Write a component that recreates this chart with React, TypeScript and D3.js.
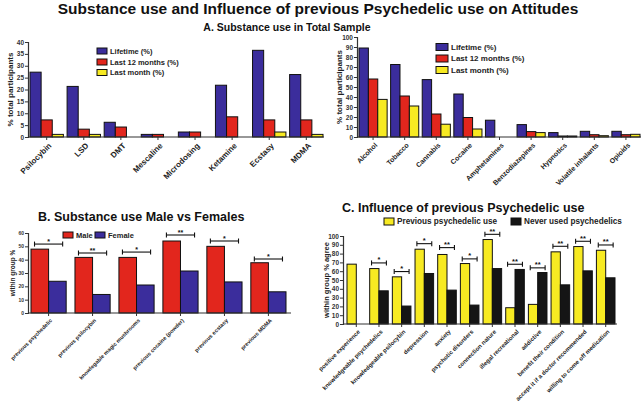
import React, { useEffect, useRef } from 'react';
import * as d3 from 'd3';

const W = 644;
const H = 412;
const FONT = '"Liberation Sans", Arial, sans-serif';
const BLUE = '#3b2d9c';
const RED = '#e2261d';
const YELLOW = '#f7ea22';
const BLACK = '#151515';

// A. Substance use in total sample (left)
const substancesA1 = ['Psilocybin', 'LSD', 'DMT', 'Mescaline', 'Microdosing', 'Ketamine', 'Ecstasy', 'MDMA'];
const lifetimeA1 = [27.3, 21.3, 6.2, 1.1, 2.1, 21.8, 36.5, 26.3];
const last12A1 = [7.2, 3.3, 4.2, 1.1, 2.1, 8.5, 7.2, 7.2];
const lastMonthA1 = [1.1, 1.1, 0, 0, 0, 0, 2.1, 1.1];

// A. Substance use in total sample (right)
const substancesA2 = ['Alcohol', 'Tobacco', 'Cannabis', 'Cocaine', 'Amphetamines', 'Benzodiazepines', 'Hypnotics', 'Volatile inhalants', 'Opioids'];
const lifetimeA2 = [89, 72.5, 57.4, 43, 16.8, 12.4, 4.4, 5.7, 5.7];
const last12A2 = [58, 41, 23, 19.5, 0, 5.4, 1, 2.3, 2.3];
const lastMonthA2 = [37.6, 31, 12.8, 8, 0, 4.4, 1, 1.3, 2.7];
const legendA = ['Lifetime (%)', 'Last 12 months (%)', 'Last month (%)'];

// B. Male vs females
const itemsB = ['previous psychedelic', 'previous psilocybin', 'knowlegable magic mushrooms', 'previous cocaine (powder)', 'previous ecstasy', 'previous MDMA'];
const maleB = [47.9, 41.7, 41.7, 54, 50, 37.7];
const femaleB = [23.8, 13.9, 21, 31.5, 23.3, 15.9];
const sigB = ['*', '**', '*', '**', '*', '*'];
const sigHeightB = [51.7, 45, 45.7, 58.5, 54, 40.5];

// C. Influence of previous psychedelic use
const itemsC = ['positive experience', 'knowledgeable psychedelics', 'knowledgeable psilocybin', 'depression', 'anxiety', 'psychotic disorders', 'connection nature', 'illegal recreational', 'addictive', 'benefit their condition', 'accept it if a doctor recommended', 'willing to come off medication'];
const previousC = [68, 63, 53.6, 85, 79, 68.7, 96, 18.5, 22.3, 82, 88, 83.8];
const neverC: (number | null)[] = [null, 37.7, 20.4, 57.4, 38.5, 21.5, 63, 62, 58.5, 44.5, 60.4, 52.5];
const sigC = ['', '*', '*', '*', '**', '*', '**', '**', '**', '**', '**', '**'];
const sigHeightC: (number | null)[] = [null, 69.4, 59.6, 91.3, 86.8, 74, 101.9, 67.9, 63.8, 88.3, 94, 89.8];

type Panel = {
  cats: string[];
  series: (number | null)[][];
  colors: string[];
  x0: number; x1: number; axisX: number; axisEnd: number;
  yTop: number; yBottom: number; yMax: number; tickStep: number;
  pad: number;
  tickFont: number; labelFont: number;
  yTitle: string; yTitleX: number; yTitleFont: number;
  sig?: string[]; sigAt?: (number | null)[]; sigFont?: number;
};

function drawPanel(svg: d3.Selection<SVGSVGElement, unknown, null, undefined>, p: Panel) {
  const g = svg.append('g');
  const x = d3.scaleBand().domain(p.cats).range([p.x0, p.x1]).paddingInner(p.pad).paddingOuter(0);
  const xs = d3.scaleBand<number>().domain(d3.range(p.series.length)).range([0, x.bandwidth()]);
  const y = d3.scaleLinear().domain([0, p.yMax]).range([p.yBottom, p.yTop]);

  // bars
  p.series.forEach((vals, si) => {
    g.append('g')
      .selectAll('rect')
      .data(p.cats.map((c, i) => ({ c, v: vals[i] })).filter(d => d.v !== null))
      .join('rect')
      .attr('x', d => (x(d.c) as number) + (xs(si) as number))
      .attr('y', d => y(d.v as number))
      .attr('width', xs.bandwidth())
      .attr('height', d => p.yBottom - y(d.v as number))
      .attr('fill', p.colors[si])
      .attr('stroke', '#111')
      .attr('stroke-width', 1);
  });

  // y axis
  const ya = g.append('g')
    .attr('transform', `translate(${p.axisX},0)`)
    .call(d3.axisLeft(y).tickValues(d3.range(0, p.yMax + 0.1, p.tickStep)).tickSize(3).tickPadding(1));
  ya.select('.domain').attr('stroke', '#333').attr('stroke-width', 1.2);
  ya.selectAll('.tick line').attr('stroke', '#333');
  ya.selectAll('.tick text')
    .attr('font-family', FONT).attr('font-size', p.tickFont).attr('font-weight', 'bold').attr('fill', '#333');

  // x axis
  g.append('line')
    .attr('x1', p.axisX).attr('x2', p.axisEnd)
    .attr('y1', p.yBottom).attr('y2', p.yBottom)
    .attr('stroke', '#333').attr('stroke-width', 1.2);
  g.append('g')
    .selectAll('line')
    .data(p.cats)
    .join('line')
    .attr('x1', d => (x(d) as number) + x.bandwidth() / 2)
    .attr('x2', d => (x(d) as number) + x.bandwidth() / 2)
    .attr('y1', p.yBottom).attr('y2', p.yBottom + 3)
    .attr('stroke', '#333');
  g.append('g')
    .selectAll('text')
    .data(p.cats)
    .join('text')
    .attr('transform', d => `translate(${(x(d) as number) + x.bandwidth() / 2 + 1},${p.yBottom + 5}) rotate(-45)`)
    .attr('text-anchor', 'end')
    .attr('dy', '0.75em')
    .attr('font-family', FONT)
    .attr('font-size', p.labelFont)
    .attr('font-weight', 'bold')
    .attr('fill', '#222')
    .text(d => d);

  // y title
  g.append('text')
    .attr('transform', `translate(${p.yTitleX},${(p.yTop + p.yBottom) / 2}) rotate(-90)`)
    .attr('text-anchor', 'middle')
    .attr('dominant-baseline', 'middle')
    .attr('font-family', FONT)
    .attr('font-size', p.yTitleFont)
    .attr('font-weight', 'bold')
    .attr('fill', '#222')
    .text(p.yTitle);

  // significance brackets
  if (p.sig && p.sigAt) {
    const bw = xs.bandwidth();
    p.cats.forEach((c, i) => {
      const at = p.sigAt![i];
      if (at === null || !p.sig![i]) return;
      const xa = (x(c) as number) + bw * 0.2;
      const xb = (x(c) as number) + bw + bw * 0.8;
      const yy = y(at);
      const b = g.append('g').attr('stroke', '#111').attr('stroke-width', 1.1);
      b.append('line').attr('x1', xa).attr('x2', xb).attr('y1', yy).attr('y2', yy);
      b.append('line').attr('x1', xa).attr('x2', xa).attr('y1', yy - 2.5).attr('y2', yy + 2.5);
      b.append('line').attr('x1', xb).attr('x2', xb).attr('y1', yy - 2.5).attr('y2', yy + 2.5);
      g.append('text')
        .attr('x', (xa + xb) / 2).attr('y', yy - 0.5)
        .attr('text-anchor', 'middle')
        .attr('font-family', FONT)
        .attr('font-size', p.sigFont || 8)
        .attr('font-weight', 'bold')
        .attr('fill', '#111')
        .text(p.sig![i]);
    });
  }
}

function legend(
  svg: d3.Selection<SVGSVGElement, unknown, null, undefined>,
  items: { label: string; color: string; x: number; y: number }[],
  boxW: number, boxH: number, font: number
) {
  const g = svg.append('g');
  items.forEach(it => {
    g.append('rect')
      .attr('x', it.x).attr('y', it.y - boxH / 2)
      .attr('width', boxW).attr('height', boxH)
      .attr('fill', it.color).attr('stroke', '#111').attr('stroke-width', 1);
    g.append('text')
      .attr('x', it.x + boxW + 3).attr('y', it.y)
      .attr('dominant-baseline', 'central')
      .attr('font-family', FONT).attr('font-size', font).attr('font-weight', 'bold')
      .attr('fill', '#222')
      .text(it.label);
  });
}

export default function App() {
  const svgRef = useRef<SVGSVGElement | null>(null);

  useEffect(() => {
    if (!svgRef.current) return;
    const svg = d3.select(svgRef.current);
    svg.selectAll('*').remove();

    svg.append('rect').attr('width', W).attr('height', H).attr('fill', '#fff');

    // Titles
    svg.append('text')
      .attr('x', 318).attr('y', 14)
      .attr('text-anchor', 'middle')
      .attr('font-family', FONT).attr('font-size', 15.5).attr('font-weight', 'bold')
      .attr('fill', '#111')
      .text('Substance use and Influence of previous Psychedelic use on Attitudes');
    svg.append('text')
      .attr('x', 287).attr('y', 31)
      .attr('text-anchor', 'middle')
      .attr('font-family', FONT).attr('font-size', 10.5).attr('font-weight', 'bold')
      .attr('fill', '#111')
      .text('A. Substance use in Total Sample');
    svg.append('text')
      .attr('x', 38).attr('y', 221)
      .attr('font-family', FONT).attr('font-size', 12.5).attr('font-weight', 'bold')
      .attr('fill', '#111')
      .text('B. Substance use Male vs Females');
    svg.append('text')
      .attr('x', 342).attr('y', 212)
      .attr('font-family', FONT).attr('font-size', 12.5).attr('font-weight', 'bold')
      .attr('fill', '#111')
      .text('C. Influence of previous Psychedelic use');

    drawPanel(svg, {
      cats: substancesA1, series: [lifetimeA1, last12A1, lastMonthA1], colors: [BLUE, RED, YELLOW],
      x0: 30, x1: 323, axisX: 28, axisEnd: 324, yTop: 42, yBottom: 137, yMax: 40, tickStep: 5, pad: 0.1,
      tickFont: 6.5, labelFont: 8, yTitle: '% total participants', yTitleX: 11, yTitleFont: 8,
    });
    drawPanel(svg, {
      cats: substancesA2, series: [lifetimeA2, last12A2, lastMonthA2], colors: [BLUE, RED, YELLOW],
      x0: 359, x1: 640, axisX: 357, axisEnd: 641, yTop: 37, yBottom: 137, yMax: 100, tickStep: 10, pad: 0.11,
      tickFont: 6.5, labelFont: 7, yTitle: '% total participants', yTitleX: 340, yTitleFont: 8,
    });
    drawPanel(svg, {
      cats: itemsB, series: [maleB, femaleB], colors: [RED, BLUE],
      x0: 31, x1: 286, axisX: 28, axisEnd: 291, yTop: 233, yBottom: 313, yMax: 60, tickStep: 10, pad: 0.2,
      tickFont: 5, labelFont: 5.5, yTitle: 'within group %', yTitleX: 13, yTitleFont: 6.5,
      sig: sigB, sigAt: sigHeightB, sigFont: 7,
    });
    drawPanel(svg, {
      cats: itemsC, series: [previousC, neverC], colors: [YELLOW, BLACK],
      x0: 347, x1: 615, axisX: 343, axisEnd: 617, yTop: 236, yBottom: 324, yMax: 100, tickStep: 10, pad: 0.18,
      tickFont: 6.5, labelFont: 6, yTitle: 'within group % agree', yTitleX: 327, yTitleFont: 7.5,
      sig: sigC, sigAt: sigHeightC, sigFont: 7.5,
    });

    legend(svg, [
      { label: legendA[0], color: BLUE, x: 97, y: 51 },
      { label: legendA[1], color: RED, x: 97, y: 62 },
      { label: legendA[2], color: YELLOW, x: 97, y: 72.5 },
    ], 10, 6, 7.5);
    legend(svg, [
      { label: legendA[0], color: BLUE, x: 436, y: 47 },
      { label: legendA[1], color: RED, x: 436, y: 58.5 },
      { label: legendA[2], color: YELLOW, x: 436, y: 70 },
    ], 12, 7, 8);
    legend(svg, [
      { label: 'Male', color: RED, x: 63, y: 235 },
      { label: 'Female', color: BLUE, x: 95, y: 235 },
    ], 10, 6, 7.5);
    legend(svg, [
      { label: 'Previous psychedelic use', color: YELLOW, x: 384, y: 221.5 },
      { label: 'Never used psychedelics', color: BLACK, x: 511, y: 221.5 },
    ], 10, 7, 8.2);
  }, []);

  return (
    <svg
      ref={svgRef}
      width={W}
      height={H}
      style={{ position: 'absolute', left: 0, top: 0, display: 'block' }}
    />
  );
}
